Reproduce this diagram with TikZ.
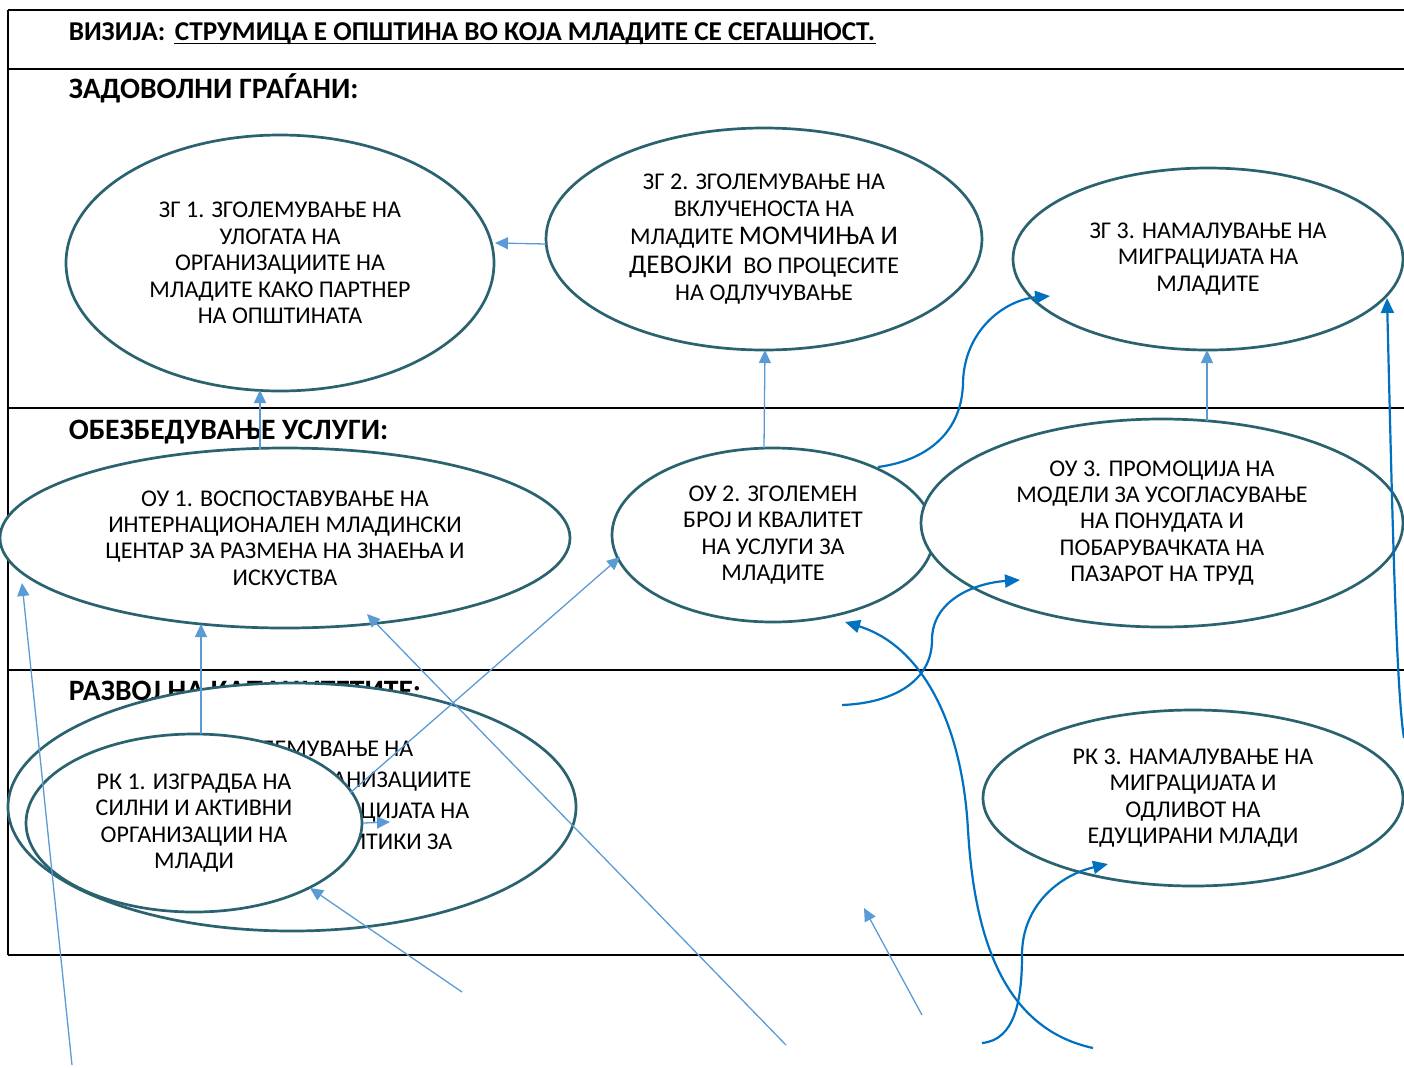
\documentclass[tikz,border=0pt]{standalone}
\usepackage{fontspec}
\setmainfont{Carlito}
\usetikzlibrary{shapes.geometric,arrows.meta,calc}

\definecolor{goalteal}{RGB}{42,98,112}
\definecolor{linkblue}{RGB}{91,155,213}
\definecolor{curveblue}{RGB}{0,112,192}

\tikzset{every picture/.style={line width=0.75pt}}
\tikzset{
  goal/.style={ellipse, draw=goalteal, line width=1.35pt, fill=white, inner sep=0pt,
    align=center, font=\fontsize{12}{13.2}\selectfont,
    execute at begin node={\rule{0pt}{10.8pt}}},
  heading/.style={anchor=base west, inner sep=0pt, font=\fontsize{14.8}{16}\selectfont\bfseries},
  link/.style={draw=linkblue, line width=0.65pt, -{Triangle[length=6.5pt,width=6pt]}},
  curvearr/.style={draw=curveblue, line width=1.1pt, -{Triangle[length=7.5pt,width=6.5pt]}},
}

\begin{document}
\begin{tikzpicture}[x=0.5pt,y=0.5pt,yscale=-1,xscale=1]
\useasboundingbox (0,0) rectangle (1404,1067);

%Table lines
\draw (8,10) -- (1404,10);
\draw (8,69) -- (1404,69);
\draw (8,408) -- (1404,408);
\draw (8,670) -- (1404,670);
\draw (8,955) -- (1404,955);
\draw (8,10) -- (8,955);

% Text Node
\node[heading, font=\fontsize{13.6}{16}\selectfont\bfseries] (vision) at (68,40) {ВИЗИЈА:};
\node[heading, font=\fontsize{13.6}{16}\selectfont\bfseries] (visul) at ($(vision.base east)+(8,0)$) {СТРУМИЦА Е ОПШТИНА ВО КОЈА МЛАДИТЕ СЕ СЕГАШНОСТ.};
\draw[line width=0.9pt] ($(visul.base west)+(0,3.5)$) -- ($(visul.base east)+(0,3.5)$);
% Text Node
\node[heading] (hzg) at (68,98) {ЗАДОВОЛНИ ГРАЃАНИ:};
% Text Node
\node[heading] (hou) at (68,439) {ОБЕЗБЕДУВАЊЕ УСЛУГИ:};
% Text Node
\node[heading] (hrk) at (68,700) {РАЗВОЈ НА КАПАЦИТЕТИТЕ:};

%Shape: Ellipse
\node[goal, minimum width=214pt, minimum height=128pt] (zg1) at (280,263)
  {ЗГ 1. ЗГОЛЕМУВАЊЕ НА\\УЛОГАТА НА\\ОРГАНИЗАЦИИТЕ НА\\МЛАДИТЕ КАКО ПАРТНЕР\\НА ОПШТИНАТА};
%Shape: Ellipse
\node[goal, minimum width=218pt, minimum height=111pt] (zg2) at (764,239)
  {ЗГ 2. ЗГОЛЕМУВАЊЕ НА\\ВКЛУЧЕНОСТА НА\\[0.8pt]МЛАДИТЕ {\fontsize{13.5}{13.2}\selectfont МОМЧИЊА И}\\[1.6pt]{\fontsize{13.5}{13.2}\selectfont ДЕВОЈКИ}\ \ ВО ПРОЦЕСИТЕ\\НА ОДЛУЧУВАЊЕ};
%Shape: Ellipse
\node[goal, minimum width=195pt, minimum height=91pt] (zg3) at (1208,259)
  {ЗГ 3. НАМАЛУВАЊЕ НА\\МИГРАЦИЈАТА НА\\МЛАДИТЕ};
%Shape: Ellipse
\node[goal, minimum width=285pt, minimum height=90pt] (ou1) at (285,538)
  {ОУ 1. ВОСПОСТАВУВАЊЕ НА\\ИНТЕРНАЦИОНАЛЕН МЛАДИНСКИ\\ЦЕНТАР ЗА РАЗМЕНА НА ЗНАЕЊА И\\ИСКУСТВА};
%Shape: Ellipse
\node[goal, minimum width=161pt, minimum height=87pt] (ou2) at (773,535)
  {ОУ 2. ЗГОЛЕМЕН\\БРОЈ И КВАЛИТЕТ\\НА УСЛУГИ ЗА\\МЛАДИТЕ};
%Shape: Ellipse
\node[goal, minimum width=241pt, minimum height=104pt] (ou3) at (1162,523)
  {ОУ 3. ПРОМОЦИЈА НА\\МОДЕЛИ ЗА УСОГЛАСУВАЊЕ\\НА ПОНУДАТА И\\ПОБАРУВАЧКАТА НА\\ПАЗАРОТ НА ТРУД};
%Shape: Ellipse
\node[goal, minimum width=284pt, minimum height=124pt] (rk2) at (292,807) {};
% Text Node
\node[inner sep=0pt, align=right, anchor=east, font=\fontsize{12}{15.5}\selectfont] (rk2txt) at (472,795)
  {ЛЕМУВАЊЕ НА\rule{29pt}{0pt}\\ГАНИЗАЦИИТЕ\\АЦИЈАТА НА\rule{1pt}{0pt}\\ЛИТИКИ ЗА\rule{9.5pt}{0pt}};
%Shape: Ellipse
\node[goal, minimum width=168pt, minimum height=89pt] (rk1) at (194,823)
  {РК 1. ИЗГРАДБА НА\\СИЛНИ И АКТИВНИ\\ОРГАНИЗАЦИИ НА\\МЛАДИ};
%Shape: Ellipse
\node[goal, minimum width=210pt, minimum height=88pt] (rk3) at (1193,798)
  {РК 3. НАМАЛУВАЊЕ НА\\МИГРАЦИЈАТА И\\ОДЛИВОТ НА\\ЕДУЦИРАНИ МЛАДИ};

%Straight Lines
\draw[link] ($(zg2)+(-218,5)$) -- ($(zg1)+(215,-20)$);
%Straight Lines
\draw[link] ($(ou1)+(-25,-89)$) -- ($(zg1)+(-20,127)$);
%Straight Lines
\draw[link] ($(ou2)+(-9,-87)$) -- ($(zg2)+(1,111)$);
%Straight Lines
\draw[link] ($(ou3)+(45,-102)$) -- ($(zg3)+(-1,91)$);
%Straight Lines
\draw[link] ($(rk1)+(7,-89)$) -- ($(ou1)+(-84,86)$);
%Straight Lines
\coordinate (f0) at (72,1065);
\draw[link] (f0) -- ($(ou1)+(-263,45)$);
%Straight Lines
\coordinate (g0) at (462,992);
\draw[link] (g0) -- ($(rk1)+(116,65)$);
%Straight Lines
\coordinate (h0) at (786,1045);
\draw[link] (h0) -- ($(ou1)+(82,76)$);
%Straight Lines
\draw[link] ($(rk1)+(156,-30)$) -- ($(ou2)+(-153,22)$);
%Straight Lines
\coordinate (j1) at (390,822);
\draw[link] (rk1.east) -- (j1);
%Straight Lines
\coordinate (p0) at (922,1015);
\coordinate (p1) at (864,908);
\draw[link] (p0) -- (p1);

%Curve Lines
\draw[curvearr] ($(ou2)+(105,-68)$) .. controls (930,460) and (962,430) .. (963,383) .. controls (964,330) and (1005,300) .. ($(zg3)+(-158,37)$);
%Curve Lines
\coordinate (l0) at (842,705);
\draw[curvearr] (l0) .. controls (895,703) and (932,680) .. (932,640) .. controls (932,600) and (975,583) .. ($(ou3)+(-142,57)$);
%Curve Lines
\coordinate (m0) at (1093,1048);
\draw[curvearr] (m0) .. controls (1010,1030) and (975,950) .. (968,830) .. controls (962,720) and (920,645) .. ($(ou2)+(72,87)$);
%Curve Lines
\coordinate (n0) at (982,1043);
\draw[curvearr] (n0) .. controls (1015,1040) and (1022,1000) .. (1022,955) .. controls (1022,905) and (1060,875) .. ($(rk3)+(-85,66)$);
%Curve Lines
\coordinate (o0) at (1404,738);
\draw[curvearr] (o0) .. controls (1396,690) and (1392,500) .. ($(zg3)+(179,39)$);

\end{tikzpicture}
\end{document}
